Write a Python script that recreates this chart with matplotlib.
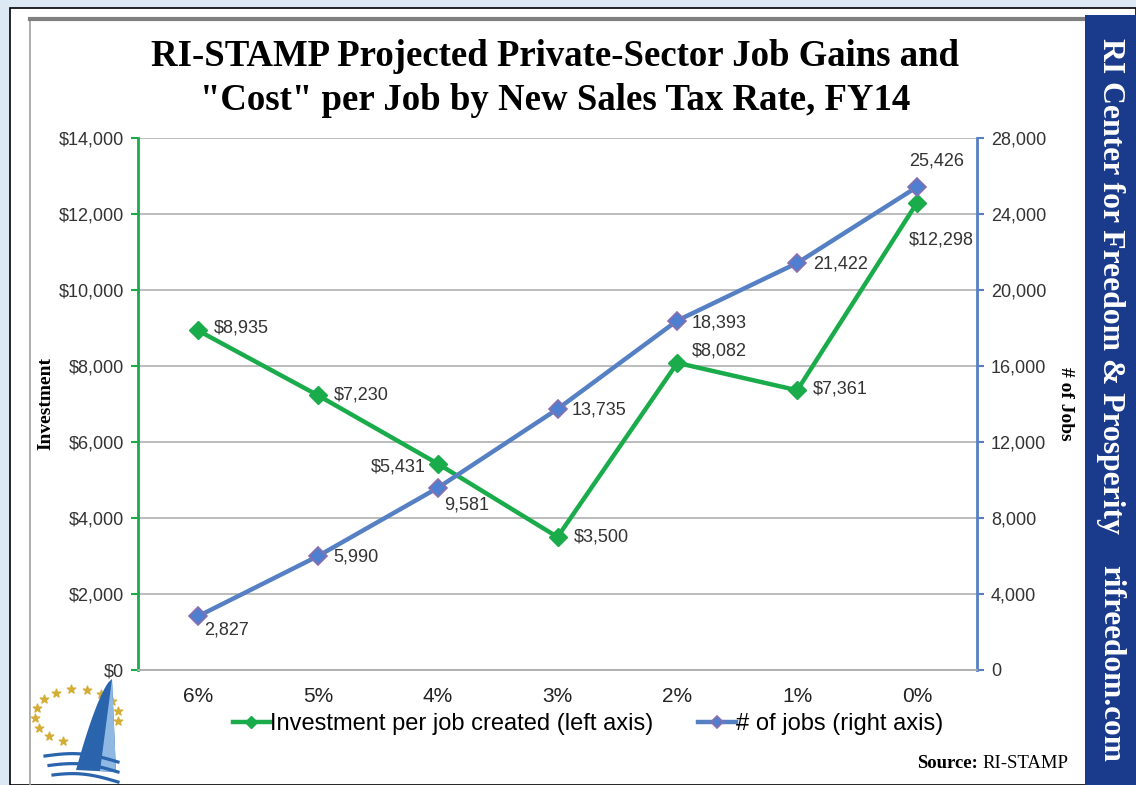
import numpy as np
import matplotlib.pyplot as plt
from matplotlib.patches import Rectangle, Polygon
from matplotlib.ticker import FuncFormatter, MultipleLocator

# data
tax_rates = ["6%", "5%", "4%", "3%", "2%", "1%", "0%"]
investment = [8935, 7230, 5431, 3500, 8082, 7361, 12298]
jobs = [2827, 5990, 9581, 13735, 18393, 21422, 25426]

# label offsets in pixels (dx, dy, ha)
inv_offsets = [(16, 2, "left"), (16, 0, "left"), (-12, -3, "right"), (16, 0, "left"),
               (14, 12, "left"), (16, 1, "left"), (-8, -37, "left")]
job_offsets = [(6, -14, "left"), (16, -1, "left"), (6, -17, "left"), (14, -1, "left"),
               (14, -2, "left"), (16, -1, "left"), (-8, 26, "left")]

W, H = 1136, 785
GREEN = "#1aab4b"
BLUE = "#5580c4"


def px(x, y):
    return x / W, 1 - y / H


fig = plt.figure(figsize=(W / 100, H / 100), dpi=100, facecolor="#dde8f5")

# frame
x0, y0 = px(10, 8)
fig.patches.append(Rectangle((x0, 0), 1 - x0, y0, transform=fig.transFigure,
                             facecolor="white", edgecolor="black", lw=1.2, zorder=-3))
fig.add_artist(plt.Line2D([30 / W, 30 / W], [0, px(0, 18)[1]], transform=fig.transFigure,
                          color="#a0a0a0", lw=1.2, zorder=-2))
fig.add_artist(plt.Line2D([30 / W, 1], [px(0, 19)[1]] * 2, transform=fig.transFigure,
                          color="#808080", lw=3, zorder=-2))
bx, by = px(1085, 15)
fig.patches.append(Rectangle((bx, 0), 1 - bx, by, transform=fig.transFigure,
                             facecolor="#1a3b8c", edgecolor="none", zorder=-1))
fig.text(*px(1111, 38), "RI Center for Freedom & Prosperity", rotation=-90, ha="center", va="top",
         color="white", fontsize=22.8, fontweight="bold", family="Liberation Serif")
fig.text(*px(1111, 762), "rifreedom.com", rotation=-90, ha="center", va="bottom",
         color="white", fontsize=22.5, fontweight="bold", family="Liberation Serif")

# title
fig.text(*px(555, 56), "RI-STAMP Projected Private-Sector Job Gains and", ha="center", va="center",
         fontsize=26.5, fontweight="bold", family="Liberation Serif")
fig.text(*px(555, 101), "\"Cost\" per Job by New Sales Tax Rate, FY14", ha="center", va="center",
         fontsize=26.5, fontweight="bold", family="Liberation Serif")

# axes
l, b = px(138, 670)
r, t = px(977, 138)
ax = fig.add_axes([l, b, r - l, t - b])
ax2 = ax.twinx()
x = np.arange(len(tax_rates))

ax.set_xlim(-0.5, len(tax_rates) - 0.5)
ax.set_ylim(0, 14000)
ax2.set_ylim(0, 28000)
ax.yaxis.set_major_locator(MultipleLocator(2000))
ax2.yaxis.set_major_locator(MultipleLocator(4000))
ax.yaxis.set_major_formatter(FuncFormatter(lambda v, p: f"${v:,.0f}"))
ax2.yaxis.set_major_formatter(FuncFormatter(lambda v, p: f"{v:,.0f}"))
ax.set_xticks(x)
ax.set_xticklabels(tax_rates)
ax.grid(axis="y", color="#b0b0b0", lw=1.2)
ax.set_axisbelow(True)
ax.set_facecolor("none")

for a in (ax, ax2):
    a.spines["top"].set_visible(False)
    a.spines["bottom"].set_color("#b0b0b0")
    a.spines["bottom"].set_linewidth(1.2)
ax.spines["right"].set_visible(False)
ax.spines["left"].set_color(GREEN)
ax.spines["left"].set_linewidth(2)
ax2.spines["left"].set_visible(False)
ax2.spines["right"].set_color(BLUE)
ax2.spines["right"].set_linewidth(2)
ax.tick_params(axis="y", colors=GREEN, labelcolor="#333333", labelsize=13, length=5, width=1.5, pad=5)
ax2.tick_params(axis="y", colors=BLUE, labelcolor="#333333", labelsize=13, length=5, width=1.5, pad=5)
ax.tick_params(axis="x", length=0, labelsize=15, labelcolor="#222222", pad=12)
for lab in ax.get_yticklabels() + ax2.get_yticklabels() + ax.get_xticklabels():
    lab.set_family("Liberation Sans")

ax.set_ylabel("Investment", fontsize=14, fontweight="bold", family="Liberation Serif", labelpad=3)
ax2.set_ylabel("# of Jobs", fontsize=14, fontweight="bold", family="Liberation Serif",
               rotation=-90, labelpad=20)

l1, = ax.plot(x, investment, color=GREEN, lw=3.2, marker="D", ms=9, mfc=GREEN, mec=GREEN,
              label="Investment per job created (left axis)")
l2, = ax2.plot(x, jobs, color=BLUE, lw=3.2, marker="D", ms=9, mfc="#4f7fd0", mec="#8a6fae",
               mew=1.2, label="# of jobs (right axis)")

for xi, v, (dx, dy, ha) in zip(x, investment, inv_offsets):
    ax.annotate(f"${v:,}", (xi, v), xytext=(dx * 0.72, dy * 0.72), textcoords="offset points",
                ha=ha, va="center", fontsize=13, color="#333333", family="Liberation Sans")
for xi, v, (dx, dy, ha) in zip(x, jobs, job_offsets):
    ax2.annotate(f"{v:,}", (xi, v), xytext=(dx * 0.72, dy * 0.72), textcoords="offset points",
                 ha=ha, va="center", fontsize=13, color="#333333", family="Liberation Sans")

leg = fig.legend(handles=[l1, l2], loc="center", bbox_to_anchor=px(588, 724), ncol=2, frameon=False,
                 handlelength=1.6, handletextpad=0.0, columnspacing=1.9,
                 prop={"family": "Liberation Sans", "size": 17})
for h in leg.legend_handles:
    h.set_markersize(6)

# source
fig.text(*px(978, 763), "Source:", ha="right", va="center", fontsize=13.5, fontweight="bold",
         family="Liberation Serif")
fig.text(*px(982, 763), "RI-STAMP", ha="left", va="center", fontsize=13.5, family="Liberation Serif")

# logo (drawn in pixel coordinates)
lx0, ly0 = px(25, 785)
lx1, ly1 = px(130, 675)
lax = fig.add_axes([lx0, ly0, lx1 - lx0, ly1 - ly0])
lax.set_xlim(25, 130)
lax.set_ylim(785, 675)
lax.axis("off")
ang = np.radians(np.linspace(-10, 250, 13))
lax.scatter(77 + 42 * np.cos(ang), 716 - 27 * np.sin(ang), marker="*", s=40, color="#d4ad35", zorder=1)
s = np.linspace(0, 1, 30)
left_edge = np.column_stack([112 - 36 * s ** 0.7, 679 + 91 * s])
sail = np.vstack([left_edge, [[116, 772]]])
lax.add_patch(Polygon(sail, closed=True, facecolor="#2a64ad", edgecolor="none", zorder=2))
lax.add_patch(Polygon([(112, 679), (100, 771), (116, 772)], closed=True, facecolor="#8fb8e3",
                      edgecolor="none", zorder=3))
for k, yy in enumerate([756, 766, 776]):
    xs = np.linspace(45 + 4 * k, 118, 40)
    lax.plot(xs, yy - 5 * np.sin((xs - 45) / 73 * np.pi) + 6 * (xs - 45) / 73, color="#2a64ad",
             lw=2.3, zorder=4)

plt.savefig("out.png", dpi=100, facecolor=fig.get_facecolor())
